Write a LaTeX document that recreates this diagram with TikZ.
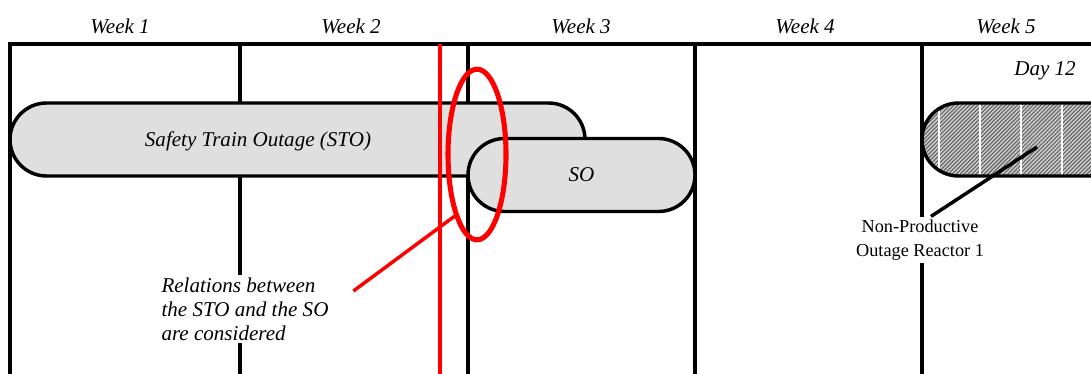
\documentclass[tikz,border=0pt]{standalone}
\usepackage{fontspec}
\setmainfont{Liberation Serif}
\usetikzlibrary{shapes.misc,shapes.geometric,patterns.meta}

\begin{document}
\begin{tikzpicture}[x=0.75pt,y=-0.75pt,
    rule/.style={line width=2.6pt},
    bar/.style={shape=rounded rectangle, draw, line width=2.6pt, fill=gray!25,
      minimum height=54.75pt, inner sep=0pt},
    caption/.style={font=\fontsize{15.8}{18}\selectfont\itshape, inner sep=1pt},
    redline/.style={red, line width=2.6pt}]
  \useasboundingbox (0,0) rectangle (1091,374);
  \clip (0,0) rectangle (1091,374);
  % Week headings and time grid
  \foreach \n/\x in {1/120,2/351,3/581,4/805,5/1006}
    \node[caption] (w\n) at (\x,26) {Week \n};
  \draw[rule] (10,374) -- (10,44) -- (1100,44);
  \foreach \x in {240,468,695,922}
    \draw[rule] (\x,44) -- (\x,374);
  \node[caption] (day) at (1045,71) {Day 12};
  % Outage bars
  \node[bar, minimum width=431.25pt] (sto) at (297.5,139.5) {};
  \node[caption] (stolbl) at (258,141) {Safety Train Outage (STO)};
  \node[bar, minimum width=170.25pt, caption, inner sep=0pt] (so) at (581.5,175) {SO};
  \node[bar, minimum width=283.5pt, fill=none,
    preaction={fill=gray!40},
    pattern={Lines[angle=45,distance=2.1pt,line width=0.8pt]},
    pattern color=gray!75!black,
    path picture={
      \foreach \d in {12.75,43.5,74.25,105}
        \draw[white, line width=1pt]
          ([xshift=\d pt]path picture bounding box.north west) --
          ([xshift=\d pt]path picture bounding box.south west);
    }] (npobar) at (1111,139.5) {};
  % Labels
  \node[fill=white, inner sep=2pt, align=center,
    font=\fontsize{13.7}{18.5}\selectfont] (npo) at (920,240) {Non-Productive\\Outage Reactor 1};
  \coordinate (npotip) at (1037,147);
  \draw[line width=2.6pt] ([xshift=8.25pt]npo.north) -- (npotip);
  \node[caption, fill=white, align=left, inner sep=2pt] (rel) at (245,309)
    {Relations between\\the STO and the SO\\are considered};
  % Interface between STO and SO
  \draw[redline] (440,44) -- (440,374);
  \node[ellipse, draw=red, line width=3.8pt, minimum width=43.5pt,
    minimum height=128pt, inner sep=0pt] (ring) at (477,154.5) {};
  \draw[redline] ([shift={(22,-18)}]rel.east) -- (ring.250);
\end{tikzpicture}
\end{document}
